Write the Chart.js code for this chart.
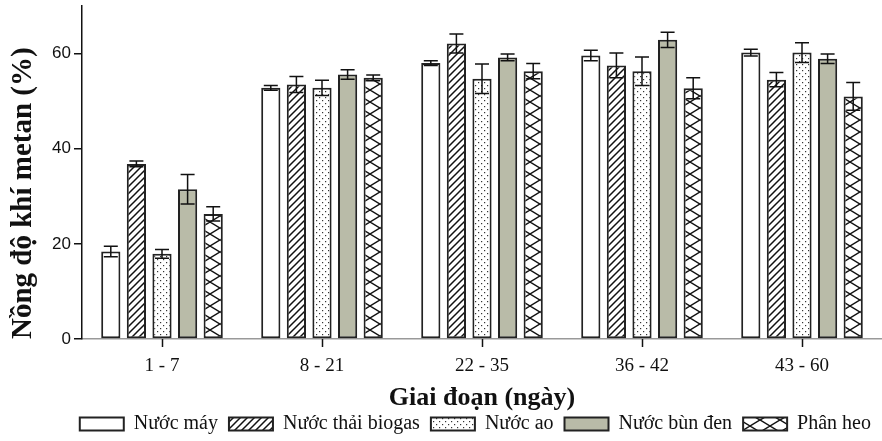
<!DOCTYPE html>
<html>
<head>
<meta charset="utf-8">
<script src="https://cdn.jsdelivr.net/npm/chart.js@4.4.1/dist/chart.umd.min.js"></script>
<style>
    html, body { margin: 0; padding: 0; background: #fff; }
    #wrap { width: 882px; height: 441px; }
</style>
</head>
<body>
<div id="wrap"><canvas id="methaneChart"></canvas></div>
<script>
// Data
const categories = ['1 - 7', '8 - 21', '22 - 35', '36 - 42', '43 - 60'];
const seriesNames = ['Nước máy', 'Nước thải biogas', 'Nước ao', 'Nước bùn đen', 'Phân heo'];

const nuocMay = [18.4, 52.8, 58.0, 59.6, 60.2];
const nuocMayErr = [1.1, 0.5, 0.5, 1.1, 0.7];
const nuocThaiBiogas = [36.8, 53.5, 62.1, 57.5, 54.5];
const nuocThaiBiogasErr = [0.6, 1.7, 2.0, 2.6, 1.5];
const nuocAo = [17.9, 52.8, 54.7, 56.3, 60.2];
const nuocAoErr = [0.9, 1.6, 3.1, 3.0, 2.1];
const nuocBunDen = [31.5, 55.6, 59.2, 62.9, 58.9];
const nuocBunDenErr = [3.1, 1.0, 0.7, 1.6, 1.0];
const phanHeo = [26.3, 54.9, 56.3, 52.7, 51.0];
const phanHeoErr = [1.5, 0.6, 1.6, 2.2, 2.9];

const yTicks = [0, 20, 40, 60];

const serif = "'Liberation Serif', 'Times New Roman', serif";
const sans = "'Liberation Sans', Arial, sans-serif";

// Fill patterns for the bars
function makePattern(kind) {
    const c = document.createElement('canvas');
    const ctx = c.getContext('2d');
    if (kind === 'hatch') {
        c.width = 7; c.height = 7;
        ctx.fillStyle = '#fff';
        ctx.fillRect(0, 0, 7, 7);
        ctx.strokeStyle = '#111';
        ctx.lineWidth = 1.5;
        ctx.beginPath();
        ctx.moveTo(0, 7); ctx.lineTo(7, 0);
        ctx.moveTo(-1, 1); ctx.lineTo(1, -1);
        ctx.moveTo(6, 8); ctx.lineTo(8, 6);
        ctx.stroke();
    } else if (kind === 'dots') {
        c.width = 6; c.height = 6;
        ctx.fillStyle = '#fff';
        ctx.fillRect(0, 0, 6, 6);
        ctx.fillStyle = '#333';
        ctx.fillRect(1, 1, 1.2, 1.2);
        ctx.fillRect(4, 4, 1.2, 1.2);
    } else if (kind === 'cross') {
        c.width = 20; c.height = 12;
        ctx.fillStyle = '#fff';
        ctx.fillRect(0, 0, 20, 12);
        ctx.strokeStyle = '#111';
        ctx.lineWidth = 1.5;
        ctx.beginPath();
        ctx.moveTo(0, 0); ctx.lineTo(20, 12);
        ctx.moveTo(20, 0); ctx.lineTo(0, 12);
        ctx.stroke();
    }
    return ctx.createPattern(c, 'repeat');
}

const fills = ['#ffffff', makePattern('hatch'), makePattern('dots'), '#b9bba8', makePattern('cross')];
const values = [nuocMay, nuocThaiBiogas, nuocAo, nuocBunDen, phanHeo];
const errors = [nuocMayErr, nuocThaiBiogasErr, nuocAoErr, nuocBunDenErr, phanHeoErr];

const datasets = seriesNames.map((name, i) => ({
    label: name,
    data: values[i],
    errors: errors[i],
    backgroundColor: fills[i],
    borderColor: '#222',
    borderWidth: 2,
    borderSkipped: false,
    categoryPercentage: 0.8,
    barPercentage: 0.75
}));

// Error bars on each bar plus the short x tick marks under the group centres
const errorBars = {
    id: 'errorBars',
    afterDatasetsDraw(chart) {
        const ctx = chart.ctx;
        const y = chart.scales.y;
        const x = chart.scales.x;
        ctx.save();
        ctx.strokeStyle = '#111';
        ctx.lineWidth = 1.5;
        chart.data.datasets.forEach((ds, i) => {
            const meta = chart.getDatasetMeta(i);
            meta.data.forEach((bar, j) => {
                const v = ds.data[j];
                const e = ds.errors[j];
                const top = y.getPixelForValue(v + e);
                const bottom = y.getPixelForValue(v - e);
                ctx.beginPath();
                ctx.moveTo(bar.x, top); ctx.lineTo(bar.x, bottom);
                ctx.moveTo(bar.x - 7, top); ctx.lineTo(bar.x + 7, top);
                ctx.moveTo(bar.x - 7, bottom); ctx.lineTo(bar.x + 7, bottom);
                ctx.stroke();
            });
        });
        // tick marks
        x.ticks.forEach((t, i) => {
            const px = Math.round(x.getPixelForTick(i)) + 0.5;
            ctx.beginPath();
            ctx.moveTo(px, x.top);
            ctx.lineTo(px, x.top + 8);
            ctx.stroke();
        });
        ctx.restore();
    }
};

new Chart(document.getElementById('methaneChart'), {
    type: 'bar',
    data: { labels: categories, datasets: datasets },
    plugins: [errorBars],
    options: {
        responsive: true,
        maintainAspectRatio: false,
        animation: false,
        layout: { padding: { top: 6, right: 0, bottom: -3, left: 0 } },
        plugins: {
            tooltip: { enabled: false },
            legend: {
                position: 'bottom',
                align: 'end',
                labels: {
                    boxWidth: 44,
                    boxHeight: 13,
                    padding: 11,
                    color: '#111',
                    font: { family: serif, size: 20 }
                }
            }
        },
        scales: {
            x: {
                afterFit(scale) { scale.height = 64; },
                grid: { display: true, offset: false, drawOnChartArea: false, drawTicks: true, tickLength: 8, color: 'rgba(0,0,0,0)' },
                border: { display: true, color: '#999', width: 1.5 },
                ticks: { color: '#111', padding: 10, font: { family: serif, size: 19, lineHeight: 1 } },
                title: {
                    display: true,
                    text: 'Giai đoạn (ngày)',
                    color: '#111',
                    padding: { top: 9, bottom: -11 },
                    font: { family: serif, size: 26, weight: 'bold' }
                }
            },
            y: {
                min: 0,
                max: 70,
                afterBuildTicks(scale) {
                    scale.ticks = yTicks.map(v => ({ value: v }));
                },
                afterFit(scale) {
                    scale.width = 82;
                    scale.paddingTop = 0;
                    scale.paddingBottom = 0;
                },
                grid: { display: true, drawOnChartArea: false, drawTicks: true, tickLength: 8, color: '#111', lineWidth: 1.5 },
                border: { display: true, color: '#111', width: 1.5 },
                ticks: { color: '#111', padding: 3, font: { family: sans, size: 17 } },
                title: {
                    display: true,
                    align: 'start',
                    text: 'Nồng độ khí metan (%)',
                    color: '#111',
                    padding: { top: 6, bottom: 0 },
                    font: { family: serif, size: 29, weight: 'bold' }
                }
            }
        }
    }
});
</script>
</body>
</html>
